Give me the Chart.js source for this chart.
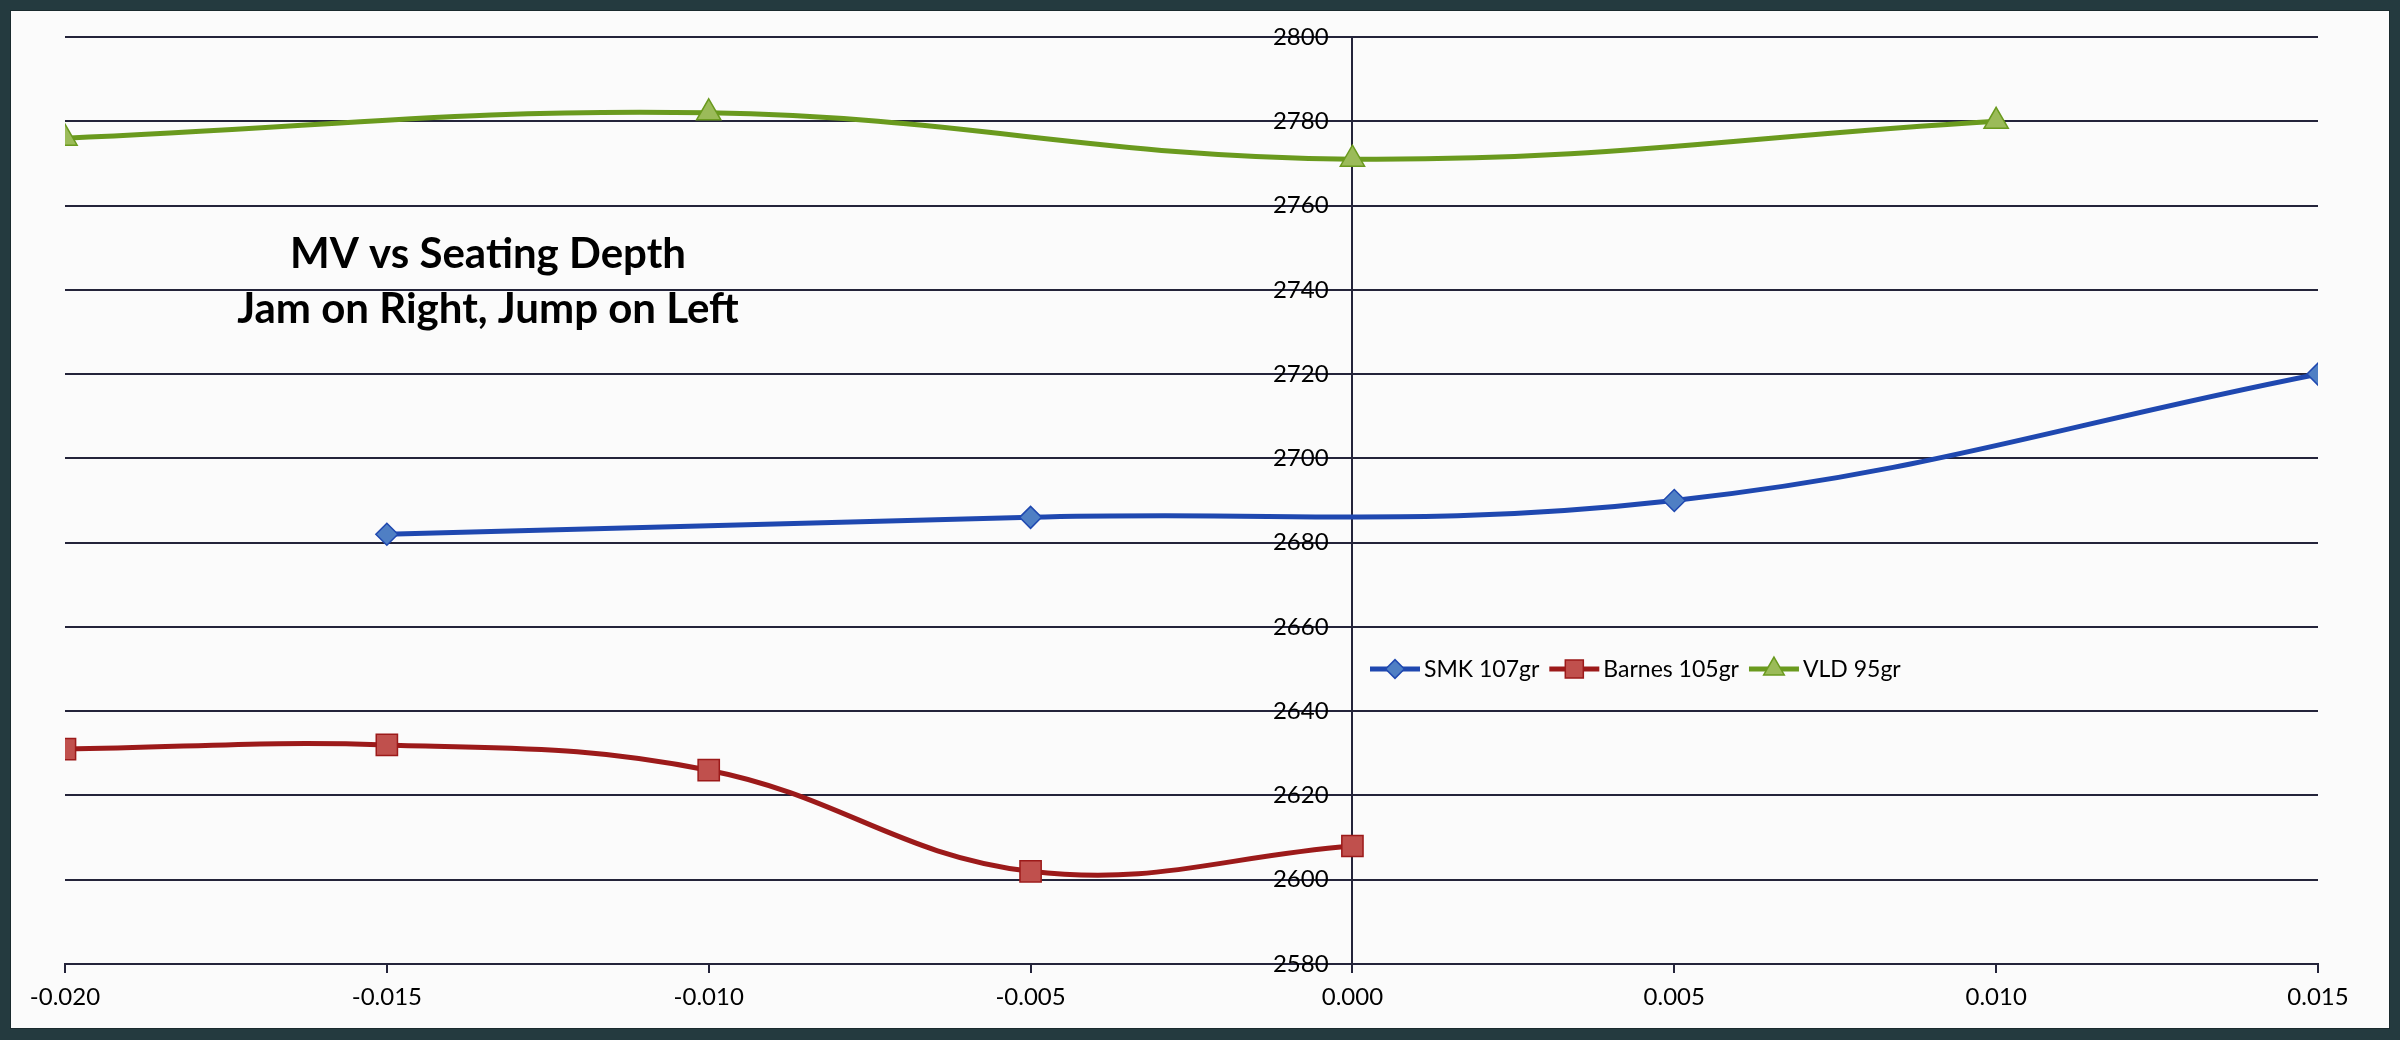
<!DOCTYPE html>
<html>
<head>
<meta charset="utf-8">
<script src="https://cdn.jsdelivr.net/npm/chart.js@4"></script>
<style>
  html, body { margin: 0; padding: 0; background: #243a3f; }
  #frame {
    position: absolute; left: 10px; top: 10px;
    width: 2380px; height: 1019px;
    background: #fbfbfb;
    box-shadow: inset 0 0 0 1px #1a2a2e;
  }
  canvas { display: block; }
</style>
</head>
<body>
<div id="frame"><canvas id="chart" width="2380" height="1019"></canvas></div>
<script>
// seating depth (in) vs muzzle velocity (fps)
const smkDepth    = [-0.015, -0.005, 0.005, 0.015];
const smkVel      = [2682, 2686, 2690, 2720];
const barnesDepth = [-0.020, -0.015, -0.010, -0.005, 0.000];
const barnesVel   = [2631, 2632, 2626, 2602, 2608];
const vldDepth    = [-0.020, -0.010, 0.000, 0.010];
const vldVel      = [2776, 2782, 2771, 2780];

const seriesNames = ["SMK 107gr", "Barnes 105gr", "VLD 95gr"];
const titleLines  = ["MV vs Seating Depth", "Jam on Right, Jump on Left"];

const xMin = -0.020, xMax = 0.015, xStep = 0.005;
const yMin = 2580, yMax = 2800, yStep = 20;

const pts = (xs, ys) => xs.map((x, i) => ({ x: x, y: ys[i] }));

const styles = [
  { line: "#1f48b0", fill: "#4f7fc4", shape: "rectRot", r: 11 },
  { line: "#9c1a1a", fill: "#c0504d", shape: "rect", r: 15 },
  { line: "#6a9a1e", fill: "#9bbb59", shape: "triangle", r: 14 }
];

const gridColor = "#24243a";
const font = "Lato, 'Open Sans', sans-serif";

// gap between the y labels and the vertical axis (done with a hidden, shifted x scale)
const labelGap = 0.00037;

// free-floating title and legend drawn inside the plot area
const overlay = {
  id: "overlay",
  afterDraw(chart) {
    const ctx = chart.ctx;
    ctx.save();
    ctx.fillStyle = "#000";
    ctx.textAlign = "center";
    ctx.textBaseline = "alphabetic";
    ctx.font = "bold 42px " + font;
    ctx.fillText(titleLines[0], 478, 258);
    ctx.fillText(titleLines[1], 478, 313);

    // legend
    let x = 1360;
    const y = 659;
    ctx.font = "23px " + font;
    ctx.textAlign = "left";
    ctx.textBaseline = "middle";
    chart.data.datasets.forEach((ds, i) => {
      const st = styles[i];
      ctx.strokeStyle = st.line;
      ctx.lineWidth = 5;
      ctx.beginPath();
      ctx.moveTo(x, y);
      ctx.lineTo(x + 50, y);
      ctx.stroke();
      ctx.fillStyle = st.fill;
      ctx.strokeStyle = st.line;
      ctx.lineWidth = 1.5;
      Chart.helpers.drawPoint(ctx, { pointStyle: st.shape, radius: st.r * 0.85, borderWidth: 1.5, rotation: 0 }, x + 25, y);
      ctx.fillStyle = "#000";
      ctx.fillText(ds.label, x + 54, y + 1);
      x += 54 + ctx.measureText(ds.label).width + 10;
    });
    ctx.restore();
  }
};

const datasets = [
  pts(smkDepth, smkVel),
  pts(barnesDepth, barnesVel),
  pts(vldDepth, vldVel)
].map((data, i) => ({
  label: seriesNames[i],
  data: data,
  borderColor: styles[i].line,
  borderWidth: 5,
  backgroundColor: styles[i].fill,
  pointStyle: styles[i].shape,
  pointRadius: styles[i].r,
  pointHoverRadius: styles[i].r,
  pointBorderColor: styles[i].line,
  pointBorderWidth: 1.5,
  pointBackgroundColor: styles[i].fill,
  tension: 0.4,
  fill: false
}));

new Chart(document.getElementById("chart"), {
  type: "line",
  data: { datasets: datasets },
  options: {
    responsive: false,
    animation: false,
    layout: { padding: { left: 55, right: 72, top: 27, bottom: 0 } },
    plugins: { legend: { display: false }, tooltip: { enabled: false } },
    scales: {
      x: {
        type: "linear",
        min: xMin, max: xMax,
        afterFit: s => { s.height = 65; },
        ticks: {
          stepSize: xStep,
          padding: 10,
          color: "#000",
          font: { family: font, size: 24 },
          callback: v => v.toFixed(3)
        },
        grid: {
          drawOnChartArea: true,
          drawTicks: true,
          tickLength: 9,
          tickColor: gridColor,
          color: c => (c.tick && Math.abs(c.tick.value) < 1e-9) ? gridColor : "rgba(0,0,0,0)",
          lineWidth: 2
        },
        border: { color: gridColor, width: 2 }
      },
      xLabel: {
        type: "linear",
        display: false,
        min: xMin + labelGap, max: xMax + labelGap
      },
      y: {
        position: { xLabel: 0 },
        min: yMin, max: yMax,
        ticks: {
          stepSize: yStep,
          color: "#000",
          font: { family: font, size: 24 },
          callback: v => String(v)
        },
        grid: { color: gridColor, lineWidth: 2, drawTicks: false },
        border: { display: false }
      }
    }
  },
  plugins: [overlay]
});
</script>
</body>
</html>
